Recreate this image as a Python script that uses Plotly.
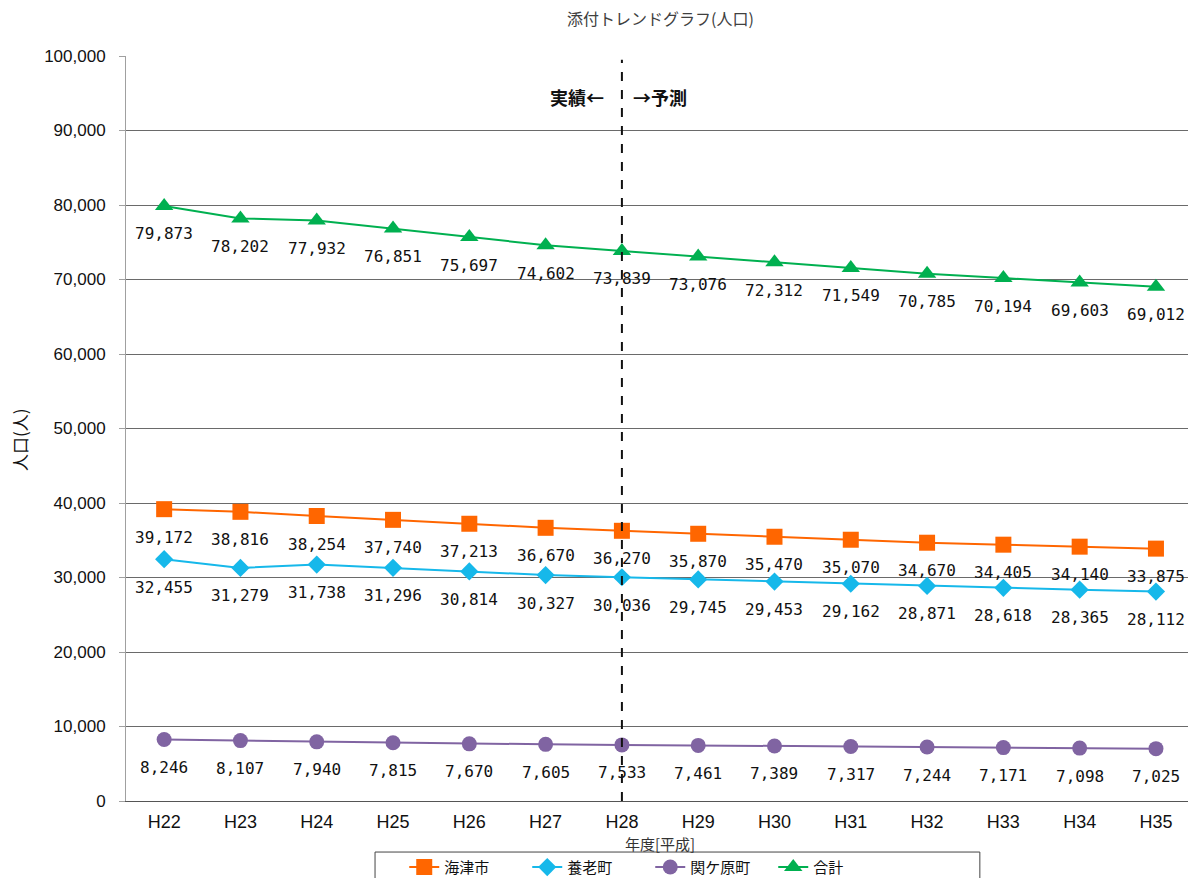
import plotly.graph_objects as go

years = ["H22", "H23", "H24", "H25", "H26", "H27", "H28",
         "H29", "H30", "H31", "H32", "H33", "H34", "H35"]
kaizu = [39172, 38816, 38254, 37740, 37213, 36670, 36270,
         35870, 35470, 35070, 34670, 34405, 34140, 33875]
yoro = [32455, 31279, 31738, 31296, 30814, 30327, 30036,
        29745, 29453, 29162, 28871, 28618, 28365, 28112]
sekigahara = [8246, 8107, 7940, 7815, 7670, 7605, 7533,
              7461, 7389, 7317, 7244, 7171, 7098, 7025]
total = [79873, 78202, 77932, 76851, 75697, 74602, 73839,
         73076, 72312, 71549, 70785, 70194, 69603, 69012]

JP = "Noto Sans CJK JP"
NUM = "DejaVu Sans Mono"
SANS = "Liberation Sans"

series = [
    ("海津市", kaizu, "#FF6600", "square", 16),
    ("養老町", yoro, "#16B8EA", "diamond", 14),
    ("関ケ原町", sekigahara, "#8064A2", "circle", 15),
    ("合計", total, "#00B050", "triangle-up", 16),
]

fig = go.Figure()
annotations = []
for name, vals, color, symbol, size in series:
    fig.add_trace(go.Scatter(
        x=years, y=vals, name=name, mode="lines+markers",
        line=dict(color=color, width=2),
        marker=dict(symbol=symbol, size=size, color=color),
    ))
    # value labels under each point
    for yr, v in zip(years, vals):
        annotations.append(dict(
            x=yr, y=v, xref="x", yref="y", text=f"{v:,}",
            showarrow=False, yshift=-28,
            font=dict(family=NUM, size=16, color="#111111"),
        ))

annotations += [
    # actual / forecast boundary labels
    dict(x="H28", y=1.0, xref="x", yref="paper", yshift=-41, xshift=-16,
         yanchor="middle", xanchor="right", showarrow=False,
         text="<b>実績←</b>", font=dict(family=JP, size=18, color="#111111")),
    dict(x="H28", y=1.0, xref="x", yref="paper", yshift=-41, xshift=9,
         yanchor="middle", xanchor="left", showarrow=False,
         text="<b>→予測</b>", font=dict(family=JP, size=18, color="#111111")),
    # chart title
    dict(x=0.503, y=1.0, xref="paper", yref="paper", yshift=38,
         yanchor="middle", xanchor="center", showarrow=False,
         text="添付トレンドグラフ(人口)",
         font=dict(family=JP, size=16, color="#404040")),
    # x-axis title
    dict(x=0.503, y=0.0, xref="paper", yref="paper", yshift=-42,
         yanchor="middle", xanchor="center", showarrow=False,
         text="年度[平成]", font=dict(family=JP, size=15, color="#333333")),
    # y-axis title
    dict(x=-0.0998, y=0.4846, xref="paper", yref="paper",
         xanchor="center", yanchor="middle", textangle=-90, showarrow=False,
         text="人口(人)", font=dict(family=JP, size=17, color="#111111")),
]

shapes = [
    dict(type="line", xref="x", yref="paper", x0="H28", x1="H28",
         y0=0, y1=0.995, line=dict(color="#111111", width=2, dash="dash")),
    # legend frame
    dict(type="rect", xref="paper", yref="paper",
         x0=0.2345, x1=0.804, y0=-0.0685, y1=-0.25,
         line=dict(color="#444444", width=1), fillcolor="white", layer="below"),
]

fig.update_layout(
    width=1188, height=878,
    margin=dict(l=126, r=0, t=56, b=77, autoexpand=False),
    paper_bgcolor="white", plot_bgcolor="white",
    font=dict(family=JP, size=15, color="#111111"),
    showlegend=True,
    legend=dict(orientation="h", x=0.262, xanchor="left",
                yref="container", y=0.031, yanchor="top",
                bgcolor="rgba(0,0,0,0)", borderwidth=0,
                font=dict(family=JP, size=15, color="#111111"),
                itemwidth=30, entrywidth=78, entrywidthmode="pixels",
                traceorder="normal"),
    annotations=annotations,
    shapes=shapes,
)
fig.update_xaxes(range=[-0.5, 13.42], showgrid=False, showline=True,
                 linecolor="#555555", linewidth=1, ticks="",
                 ticklabelstandoff=4,
                 tickfont=dict(family=SANS, size=18, color="#111111"))
fig.update_yaxes(range=[0, 100000], dtick=10000, tickformat=",",
                 showgrid=True, gridcolor="#6a6a6a", gridwidth=1,
                 showline=True, linecolor="#a0a0a0", linewidth=1,
                 ticks="outside", ticklen=6, tickcolor="#a0a0a0",
                 ticklabelstandoff=10,
                 tickfont=dict(family=SANS, size=17, color="#111111"),
                 zeroline=False)

fig.write_html("out.html")
